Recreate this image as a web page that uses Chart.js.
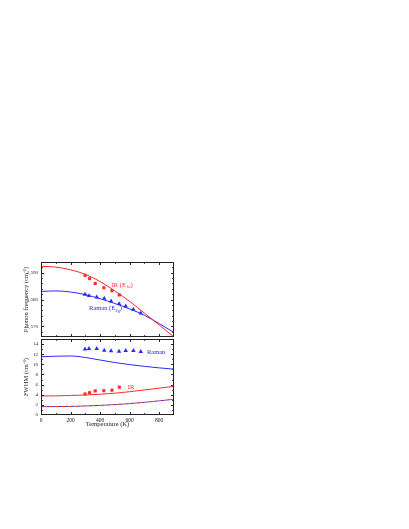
<!DOCTYPE html>
<html>
<head>
<meta charset="utf-8">
<script src="https://cdn.jsdelivr.net/npm/chart.js@4.4.0/dist/chart.umd.min.js"></script>
<style>
    html, body { margin: 0; padding: 0; background: #fff; width: 409px; height: 529px; overflow: hidden; }
    canvas { position: absolute; left: 0; }
    #freqChart { top: 252px; }
    #fwhmChart { top: 330px; }
</style>
</head>
<body>
<canvas id="freqChart" width="190" height="95"></canvas>
<canvas id="fwhmChart" width="190" height="102"></canvas>
<script>
// Temperature grid of the model curves (K)
var curveTemps = [0, 100, 200, 300, 400, 500, 600, 700, 800, 900];

// Top panel: phonon frequency (cm-1)
var irFreqCurve    = [1592.4, 1592.1, 1591.1, 1589.4, 1586.7, 1583.2, 1579.3, 1574.9, 1570.5, 1566.0];
var ramanFreqCurve = [1583.0, 1583.2, 1582.8, 1581.8, 1580.3, 1578.5, 1576.5, 1574.1, 1571.0, 1567.7];

var irTemps      = [298, 329, 367, 425, 480, 530];
var irFreqPts    = [1589.0, 1587.8, 1586.0, 1584.4, 1583.3, 1581.7];
var ramanTemps   = [298, 325, 377, 428, 474, 528, 573, 625, 675];
var ramanFreqPts = [1581.9, 1581.4, 1580.9, 1580.4, 1579.4, 1578.4, 1577.5, 1576.3, 1574.9];

// Bottom panel: FWHM (cm-1)
var ramanFwhmCurve = [11.5, 11.6, 11.65, 11.35, 10.85, 10.35, 9.95, 9.6, 9.3, 9.05];
var irFwhmCurve    = [3.75, 3.78, 3.85, 3.95, 4.1, 4.3, 4.6, 4.95, 5.3, 5.65];
var ramanFwhmBase  = [1.65, 1.66, 1.7, 1.78, 1.9, 2.05, 2.25, 2.5, 2.8, 3.1];
var irFwhmBase     = [1.65, 1.66, 1.7, 1.78, 1.9, 2.05, 2.25, 2.5, 2.8, 3.1];

var ramanFwhmPts = [13.0, 13.1, 13.1, 12.75, 12.65, 12.55, 12.7, 12.7, 12.5];
var irFwhmPts    = [4.15, 4.4, 4.75, 4.8, 4.9, 5.5];

// Tick labels
var tempTicks = [0, 200, 400, 600, 800];
var freqTicks = [1570, 1580, 1590];
var fwhmTicks = [0, 2, 4, 6, 8, 10, 12, 14];

var RED = '#ff2a2a';
var BLUE = '#2a2aff';
var SERIF = 'Liberation Serif';

function toPoints(xs, ys) {
    return xs.map(function(x, i) { return { x: x, y: ys[i] }; });
}

function lineSet(xs, ys, color, dash, dashOffset) {
    return {
        data: toPoints(xs, ys),
        showLine: true,
        borderColor: color,
        borderWidth: 1,
        borderDash: dash || [],
        borderDashOffset: dashOffset || 0,
        pointRadius: 0,
        cubicInterpolationMode: 'monotone'
    };
}

function pointSet(xs, ys, color, style, radius) {
    return {
        data: toPoints(xs, ys),
        showLine: false,
        pointStyle: style,
        pointRadius: radius,
        pointBackgroundColor: color,
        pointBorderColor: color,
        pointBorderWidth: 0
    };
}

function fixedTicks(values) {
    return function(scale) {
        scale.ticks = values.map(function(v) { return { value: v }; });
    };
}

// Box frame with inward ticks on all four sides
var framePlugin = {
    id: 'frame',
    afterDatasetsDraw: function(chart, args, opts) {
        var ctx = chart.ctx, a = chart.chartArea;
        var xs = chart.scales.x, ys = chart.scales.y;
        ctx.save();
        ctx.strokeStyle = '#222';
        ctx.lineWidth = 1;
        ctx.strokeRect(Math.round(a.left) + 0.5, Math.round(a.top) + 0.5,
                       Math.round(a.right - a.left) - 1, Math.round(a.bottom - a.top) - 1);
        ctx.beginPath();
        for (var v = xs.min + opts.xMinor; v < xs.max; v += opts.xMinor) {
            var px = Math.round(xs.getPixelForValue(v)) + 0.5;
            var len = (v % opts.xMajor === 0) ? 3 : 1.8;
            ctx.moveTo(px, a.bottom); ctx.lineTo(px, a.bottom - len);
            ctx.moveTo(px, a.top); ctx.lineTo(px, a.top + len);
        }
        var start = Math.ceil((ys.min + 0.001) / opts.yMinor) * opts.yMinor;
        for (var w = start; w < ys.max; w += opts.yMinor) {
            var py = Math.round(ys.getPixelForValue(w)) + 0.5;
            var l2 = (Math.abs(w % opts.yMajor) < 0.001) ? 3 : 1.8;
            ctx.moveTo(a.left, py); ctx.lineTo(a.left + l2, py);
            ctx.moveTo(a.right, py); ctx.lineTo(a.right - l2, py);
        }
        ctx.stroke();
        ctx.restore();
    }
};

// Series labels with subscripts, placed in data coordinates
var labelPlugin = {
    id: 'seriesLabels',
    afterDatasetsDraw: function(chart, args, opts) {
        var ctx = chart.ctx;
        ctx.save();
        ctx.textBaseline = 'middle';
        ctx.textAlign = 'left';
        (opts.items || []).forEach(function(item) {
            var x = chart.scales.x.getPixelForValue(item.x);
            var y = chart.scales.y.getPixelForValue(item.y);
            ctx.fillStyle = item.color;
            item.parts.forEach(function(p) {
                var sub = p[1];
                ctx.font = (sub ? 4.5 : 6.5) + 'px "' + SERIF + '"';
                ctx.fillText(p[0], x, sub ? y + 2 : y);
                x += ctx.measureText(p[0]).width;
            });
        });
        ctx.restore();
    }
};

function baseOptions(yMin, yMax, yTicks, yTitle, showX) {
    return {
        responsive: false,
        animation: false,
        devicePixelRatio: 1,
        layout: { padding: { top: 0, right: 16, bottom: 0, left: 0 } },
        plugins: { legend: { display: false }, tooltip: { enabled: false } },
        scales: {
            x: {
                type: 'linear',
                min: 0,
                max: 900,
                display: showX,
                grid: { display: false, drawTicks: false },
                border: { display: false },
                afterBuildTicks: fixedTicks(tempTicks),
                afterFit: function(scale) { scale.height = showX ? 17 : 0; },
                ticks: { padding: 2, color: '#222', font: { family: SERIF, size: 5.5 } },
                title: {
                    display: true,
                    text: 'Temperature (K)',
                    color: '#222',
                    font: { family: SERIF, size: 6.5 },
                    padding: { top: 0, bottom: 4 }
                }
            },
            y: {
                type: 'linear',
                min: yMin,
                max: yMax,
                grid: { display: false, drawTicks: false },
                border: { display: false },
                afterBuildTicks: fixedTicks(yTicks),
                afterFit: function(scale) { scale.width = 41; },
                ticks: { padding: 3, color: '#222', font: { family: SERIF, size: 5 } },
                title: {
                    display: true,
                    text: yTitle,
                    color: '#222',
                    font: { family: SERIF, size: 6.5 },
                    padding: { top: 22, bottom: 0 }
                }
            }
        }
    };
}

// Top panel
var freqOptions = baseOptions(1566, 1594, freqTicks, 'Phonon frequency (cm⁻¹)', false);
freqOptions.layout.padding.top = 10;
freqOptions.layout.padding.bottom = 10;
freqOptions.plugins.frame = { xMinor: 100, xMajor: 200, yMinor: 2, yMajor: 10 };
freqOptions.plugins.seriesLabels = {
    items: [
        { x: 478, y: 1585.4, color: RED, parts: [['IR (E', false], ['1u', true], [')', false]] },
        { x: 325, y: 1576.7, color: BLUE, parts: [['Raman (E', false], ['2g', true], [')', false]] }
    ]
};

new Chart(document.getElementById('freqChart'), {
    type: 'scatter',
    data: {
        datasets: [
            lineSet(curveTemps, irFreqCurve, RED),
            lineSet(curveTemps, ramanFreqCurve, BLUE),
            pointSet(irTemps, irFreqPts, RED, 'rect', 2.2),
            pointSet(ramanTemps, ramanFreqPts, BLUE, 'triangle', 2.6)
        ]
    },
    options: freqOptions,
    plugins: [framePlugin, labelPlugin]
});

// Bottom panel
var fwhmOptions = baseOptions(0, 15, fwhmTicks, 'FWHM (cm⁻¹)', true);
fwhmOptions.layout.padding.top = 9;
fwhmOptions.plugins.frame = { xMinor: 100, xMajor: 200, yMinor: 1, yMajor: 2 };
fwhmOptions.plugins.seriesLabels = {
    items: [
        { x: 717, y: 12.3, color: BLUE, parts: [['Raman', false]] },
        { x: 587, y: 5.5, color: RED, parts: [['IR', false]] }
    ]
};

new Chart(document.getElementById('fwhmChart'), {
    type: 'scatter',
    data: {
        datasets: [
            lineSet(curveTemps, ramanFwhmCurve, BLUE),
            lineSet(curveTemps, irFwhmCurve, RED),
            lineSet(curveTemps, ramanFwhmBase, BLUE, [3, 3], 0),
            lineSet(curveTemps, irFwhmBase, RED, [3, 3], 3),
            pointSet(ramanTemps, ramanFwhmPts, BLUE, 'triangle', 2.6),
            pointSet(irTemps, irFwhmPts, RED, 'rect', 2.2)
        ]
    },
    options: fwhmOptions,
    plugins: [framePlugin, labelPlugin]
});
</script>
</body>
</html>
